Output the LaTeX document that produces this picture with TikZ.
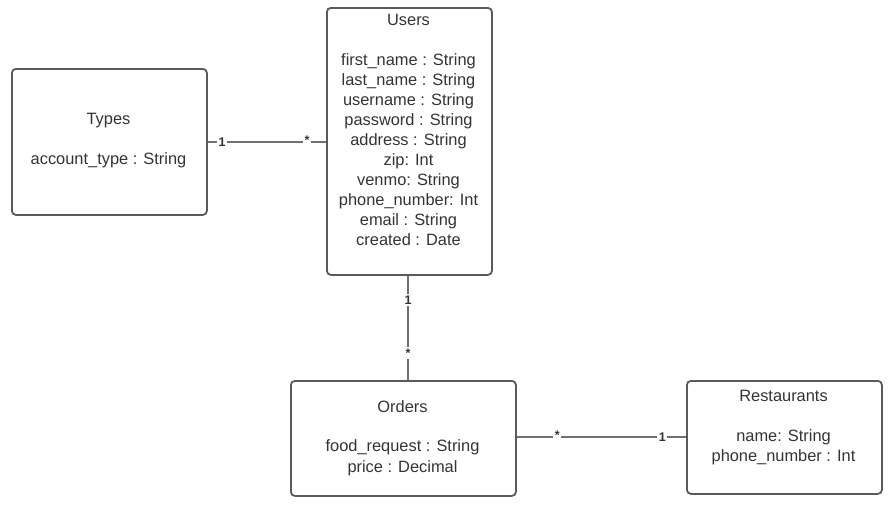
\documentclass[tikz,border=0pt]{standalone}
\usepackage{fontspec}
\setmainfont{Liberation Sans}
\definecolor{boxline}{HTML}{5A5A5A}
\definecolor{txt}{HTML}{333333}
\definecolor{conn}{HTML}{707070}
\begin{document}
\begin{tikzpicture}[x=1pt,y=-1pt,
  entity/.style={draw=boxline,line width=1.8pt,rounded corners=4pt,inner sep=0pt,anchor=north west},
  attr/.style={anchor=base,text=txt,font=\fontsize{16.4}{18}\selectfont,inner sep=0pt},
  conline/.style={draw=conn,line width=1.2pt},
  mult/.style={fill=white,text=txt,font=\fontsize{12.5}{14}\selectfont\bfseries,inner sep=1.5pt}
]
\useasboundingbox (0,0) rectangle (890,509);
% boxes
\node[entity,minimum width=195pt,minimum height=146pt] (types) at (11,68) {};
\node[entity,minimum width=165pt,minimum height=267pt] (users) at (326,7) {};
\node[entity,minimum width=225pt,minimum height=115pt] (orders) at (290,380) {};
\node[entity,minimum width=195pt,minimum height=113pt] (rest) at (686,380) {};
% Types text
\node[attr] (tt) at (108.5,124) {Types};
\node[attr] (t1) at (108.5,164) {account\_type : String};
% Users text
\node[attr] (ut) at (408.5,25) {Users};
\foreach \t [count=\i] in {first\_name : String,last\_name : String,username : String,password : String,address : String,zip: Int,venmo: String,phone\_number: Int,email : String,created : Date}
  \node[attr] (u\i) at (408.5,45+20*\i) {\t};
% Orders text
\node[attr] (ot) at (402.5,412) {Orders};
\node[attr] (o1) at (402.5,451) {food\_request : String};
\node[attr] (o2) at (402.5,472) {price : Decimal};
% Restaurants text
\node[attr] (rt) at (783.5,401) {Restaurants};
\node[attr] (r1) at (783.5,441) {name: String};
\node[attr] (r2) at (783.5,461) {phone\_number : Int};
% connectors
\draw[conline] (types.east) -- (users.west |- types.east)
  node[mult,pos=0.12] (m1) {1}
  node[mult,pos=0.84,yshift=2pt] (m2) {*};
\draw[conline] (users.south -| 408,0) -- (orders.north -| 408,0)
  node[mult,pos=0.23] (m3) {1}
  node[mult,pos=0.74] (m4) {*};
\draw[conline] (orders.east |- 0,437) -- (rest.west |- 0,437)
  node[mult,pos=0.24,yshift=2pt] (m5) {*}
  node[mult,pos=0.86] (m6) {1};
\end{tikzpicture}
\end{document}
